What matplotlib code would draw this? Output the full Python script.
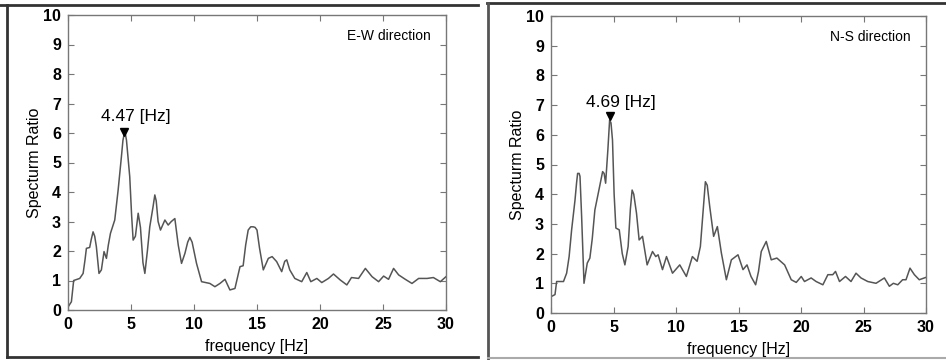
import numpy as np
import matplotlib
matplotlib.use('Agg')
import matplotlib.pyplot as plt
from matplotlib.lines import Line2D

# E-W direction spectrum ratio
freq_ew = [0.0, 0.27, 0.45, 0.93, 1.2, 1.35, 1.46, 1.72, 1.85, 1.99, 2.12, 2.25, 2.46, 2.65,
           2.86, 3.05, 3.2, 3.37, 3.71, 3.98, 4.24, 4.36, 4.47, 4.56, 4.64, 4.9, 5.05, 5.17,
           5.35, 5.57, 5.75, 5.95, 6.1, 6.3, 6.49, 6.75, 6.89, 7.0, 7.15, 7.34, 7.69, 7.95,
           8.2, 8.48, 8.75, 9.01, 9.28, 9.5, 9.67, 9.85, 10.2, 10.6, 11.26,
           11.66, 12.06, 12.46, 12.85, 13.25, 13.65, 13.9, 14.1, 14.3, 14.5, 14.7, 14.85,
           15.0, 15.2, 15.5, 15.9, 16.2, 16.56, 16.96, 17.2, 17.36, 17.6, 18.0, 18.55,
           18.95, 19.27, 19.75, 20.14, 20.67, 21.07, 21.6, 22.13, 22.5, 23.06, 23.6,
           24.13, 24.65, 25.05, 25.44, 25.84, 26.24, 26.77, 27.3, 27.83, 28.5, 29.0,
           29.55, 30.0]
ratio_ew = [0.1, 0.28, 1.0, 1.07, 1.24, 1.7, 2.09, 2.12, 2.4, 2.65, 2.5, 2.15, 1.24, 1.36,
            1.98, 1.75, 2.2, 2.6, 3.05, 4.07, 5.2, 5.75, 5.99, 5.95, 5.76, 4.52, 3.2, 2.37,
            2.5, 3.28, 2.8, 1.6, 1.24, 2.0, 2.82, 3.5, 3.9, 3.7, 3.0, 2.71, 3.05, 2.88,
            3.0, 3.1, 2.2, 1.58, 1.92, 2.3, 2.46, 2.3, 1.58, 0.96, 0.9,
            0.79, 0.9, 1.04, 0.68, 0.73, 1.47, 1.5, 2.2, 2.71, 2.82, 2.82, 2.8,
            2.71, 2.1, 1.36, 1.75, 1.81, 1.64, 1.3, 1.65, 1.7, 1.36, 1.07, 0.96,
            1.27, 0.96, 1.07, 0.93, 1.07, 1.22, 1.02, 0.85, 1.1, 1.07, 1.41,
            1.13, 0.96, 1.15, 1.04, 1.41, 1.19, 1.04, 0.9, 1.07, 1.07, 1.1,
            0.96, 1.13]

# N-S direction spectrum ratio
freq_ns = [0.05, 0.32, 0.45, 1.0, 1.25, 1.45, 1.65, 1.92, 2.05, 2.13, 2.25, 2.32, 2.45,
           2.64, 2.9, 3.11, 3.3, 3.51, 3.78, 4.13, 4.25, 4.37, 4.55, 4.69, 4.8, 4.92, 5.05,
           5.19, 5.46, 5.7, 5.91, 6.17, 6.35, 6.49, 6.62, 6.84, 7.05, 7.32, 7.69, 8.12,
           8.38, 8.57, 8.92, 9.24, 9.72, 10.3, 10.83, 11.31, 11.69, 11.95, 12.2, 12.35,
           12.5, 12.7, 13.01, 13.31, 13.63, 14.03, 14.43, 14.96, 15.36, 15.68, 16.0,
           16.37, 16.6, 16.82, 17.22, 17.62, 18.07, 18.69, 19.22, 19.62, 20.02, 20.28,
           20.81, 21.21, 21.75, 22.15, 22.54, 22.76, 23.08, 23.56, 24.0, 24.4, 24.8,
           25.34, 26.0, 26.67, 27.07, 27.39, 27.74, 28.13, 28.4, 28.72, 29.07, 29.46, 30.0]
ratio_ns = [0.56, 0.62, 1.06, 1.06, 1.34, 1.9, 2.8, 3.8, 4.4, 4.7, 4.7, 4.6, 3.25,
            1.0, 1.68, 1.85, 2.5, 3.47, 4.03, 4.76, 4.7, 4.37, 5.5, 6.5, 6.4, 5.82, 4.0,
            2.86, 2.8, 2.0, 1.62, 2.24, 3.5, 4.14, 4.0, 3.36, 2.46, 2.58, 1.62, 2.07,
            1.9, 1.96, 1.46, 1.9, 1.34, 1.62, 1.23, 1.9, 1.74, 2.24, 3.6, 4.42,
            4.3, 3.58, 2.58, 2.91, 2.02, 1.12, 1.79, 1.96, 1.46, 1.62, 1.23,
            0.95, 1.4, 2.07, 2.41, 1.79, 1.85, 1.62, 1.12, 1.03, 1.23, 1.06,
            1.18, 1.06, 0.95, 1.29, 1.29, 1.4, 1.06, 1.23, 1.06, 1.34, 1.18,
            1.06, 1.0, 1.18, 0.9, 1.0, 0.95, 1.12, 1.12, 1.51, 1.29, 1.12, 1.2]

peak_ew = (4.47, 6.05)
peak_ns = (4.69, 6.62)
labels = ['E-W direction', 'N-S direction']

plt.rcParams['font.family'] = ['Liberation Sans', 'DejaVu Sans']

fig = plt.figure(figsize=(9.46, 3.6), dpi=100)

# panel frames
frame = '#333333'
fig.add_artist(Line2D([0, 478/946], [1 - 5/360, 1 - 5/360], color=frame, lw=2, transform=fig.transFigure))
fig.add_artist(Line2D([7/946, 7/946], [1 - 5/360, 1 - 357/360], color=frame, lw=2, transform=fig.transFigure))
fig.add_artist(Line2D([7/946, 478/946], [1 - 357/360, 1 - 357/360], color=frame, lw=2, transform=fig.transFigure))
fig.add_artist(Line2D([487/946, 1], [1 - 3/360, 1 - 3/360], color=frame, lw=2, transform=fig.transFigure))
fig.add_artist(Line2D([488/946, 488/946], [1 - 3/360, 0], color='#555555', lw=2, transform=fig.transFigure))
fig.add_artist(Line2D([488/946, 1], [1 - 358/360, 1 - 358/360], color='#aaaaaa', lw=1.5, transform=fig.transFigure))

ax1 = fig.add_axes([68/946, 50/360, 378/946, 295/360])
ax2 = fig.add_axes([551/946, 47/360, 375/946, 297/360])

panels = [(ax1, freq_ew, ratio_ew, peak_ew, (5.35, 6.3)),
          (ax2, freq_ns, ratio_ns, peak_ns, (5.6, 6.85))]

for i, (ax, f, r, pk, txt) in enumerate(panels):
    ax.plot(f, r, color='#555555', lw=1.1)
    ax.plot(pk[0], pk[1], marker='v', color='black', ms=6, ls='none')
    ax.text(txt[0], txt[1], '%.2f [Hz]' % pk[0], ha='center', va='bottom', fontsize=12.5)
    ax.text(28.8, 9.3, labels[i], ha='right', va='center', fontsize=10)
    ax.set_xlim(0, 30)
    ax.set_ylim(0, 10)
    ax.set_xticks(np.arange(0, 31, 5))
    ax.set_yticks(np.arange(0, 11, 1))
    ax.tick_params(direction='in', top=True, right=True, length=4, width=0.8,
                   color='#777777', labelsize=11.5, pad=5)
    for lab in ax.get_xticklabels() + ax.get_yticklabels():
        lab.set_fontweight('bold')
    for s in ax.spines.values():
        s.set_color('#777777')
        s.set_linewidth(1.0)
    ax.set_xlabel('frequency [Hz]', fontsize=11.5, labelpad=5)
    ax.set_ylabel('Specturm Ratio', fontsize=11.5, labelpad=1)

fig.savefig('out.png', dpi=100)
